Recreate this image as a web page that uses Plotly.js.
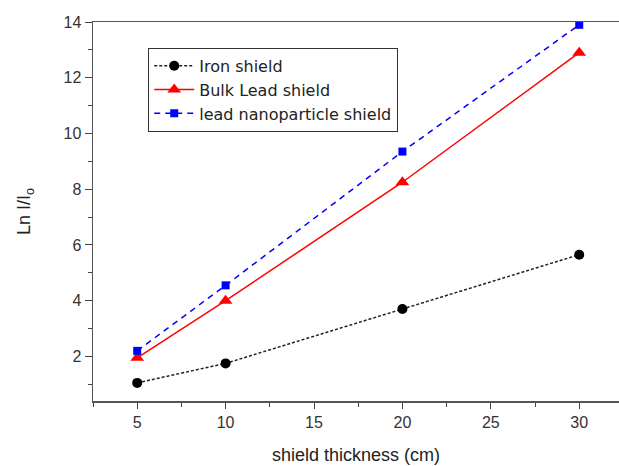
<!DOCTYPE html>
<html>
<head>
<meta charset="utf-8">
<script src="https://cdn.plot.ly/plotly-3.0.1.min.js"></script>
<style>html,body{margin:0;padding:0;background:#fff}#chart{width:619px;height:466px}</style>
</head>
<body>
<div id="chart"></div>
<script>
const thickness = [5, 10, 20, 30];
const ironShield = [1.05, 1.75, 3.7, 5.65];
const bulkLeadShield = [1.95, 4.0, 8.25, 12.9];
const nanoLeadShield = [2.2, 4.55, 9.35, 13.9];
const seriesNames = ["Iron shield", "Bulk Lead shield", "lead nanoparticle shield"];
const xTicks = [5, 10, 15, 20, 25, 30];
const yTicks = [2, 4, 6, 8, 10, 12, 14];

const traces = [
  {x: thickness, y: ironShield, name: seriesNames[0], mode: "lines+markers",
   line: {color: "#222", width: 1.5, dash: "3px,2px"},
   marker: {symbol: "circle", size: 10, color: "#000"}},
  {x: thickness, y: bulkLeadShield, name: seriesNames[1], mode: "lines+markers",
   line: {color: "#ff0000", width: 1.5},
   marker: {symbol: "triangle-up", size: 12, color: "#ff0000"}},
  {x: thickness, y: nanoLeadShield, name: seriesNames[2], mode: "lines+markers",
   line: {color: "#0000ff", width: 1.5, dash: "6px,5px"},
   marker: {symbol: "square", size: 8, color: "#0000ff"}}
];

const layout = {
  width: 619, height: 466,
  margin: {l: 93, r: 0, t: 22, b: 65},
  paper_bgcolor: "#fff", plot_bgcolor: "#fff",
  font: {family: "Liberation Sans, Arial, sans-serif", color: "#333", size: 15},
  showlegend: true,
  legend: {x: 0.105, y: 0.932, xanchor: "left", yanchor: "top",
           bordercolor: "#333", borderwidth: 1, bgcolor: "#fff",
           itemwidth: 40,
           font: {family: "DejaVu Sans, sans-serif", size: 16, color: "#222"}, tracegroupgap: 0},
  xaxis: {range: [2.5, 32.25], tickvals: xTicks, ticks: "outside", ticklen: 6,
          tickcolor: "#444", showline: true, linecolor: "#555", linewidth: 1.5,
          mirror: true, showgrid: false, zeroline: false,
          tickfont: {size: 16, color: "#333"},
          minor: {dtick: 2.5, tick0: 2.5, ticks: "outside", ticklen: 4, tickcolor: "#444", showgrid: false},
          title: {text: "shield thickness (cm)", font: {size: 18, color: "#222"}, standoff: 18}},
  yaxis: {range: [0.4, 14], tickvals: yTicks, ticks: "outside", ticklen: 7,
          tickcolor: "#444", showline: true, linecolor: "#555", linewidth: 1.5,
          showgrid: false, zeroline: false,
          tickfont: {size: 16, color: "#333"},
          minor: {dtick: 1, tick0: 1, ticks: "outside", ticklen: 4, tickcolor: "#444", showgrid: false},
          title: {text: "Ln I/I<sub>o</sub>", font: {size: 18, color: "#222"}, standoff: 28}}
};

Plotly.newPlot("chart", traces, layout, {displayModeBar: false, staticPlot: true});
</script>
</body>
</html>
